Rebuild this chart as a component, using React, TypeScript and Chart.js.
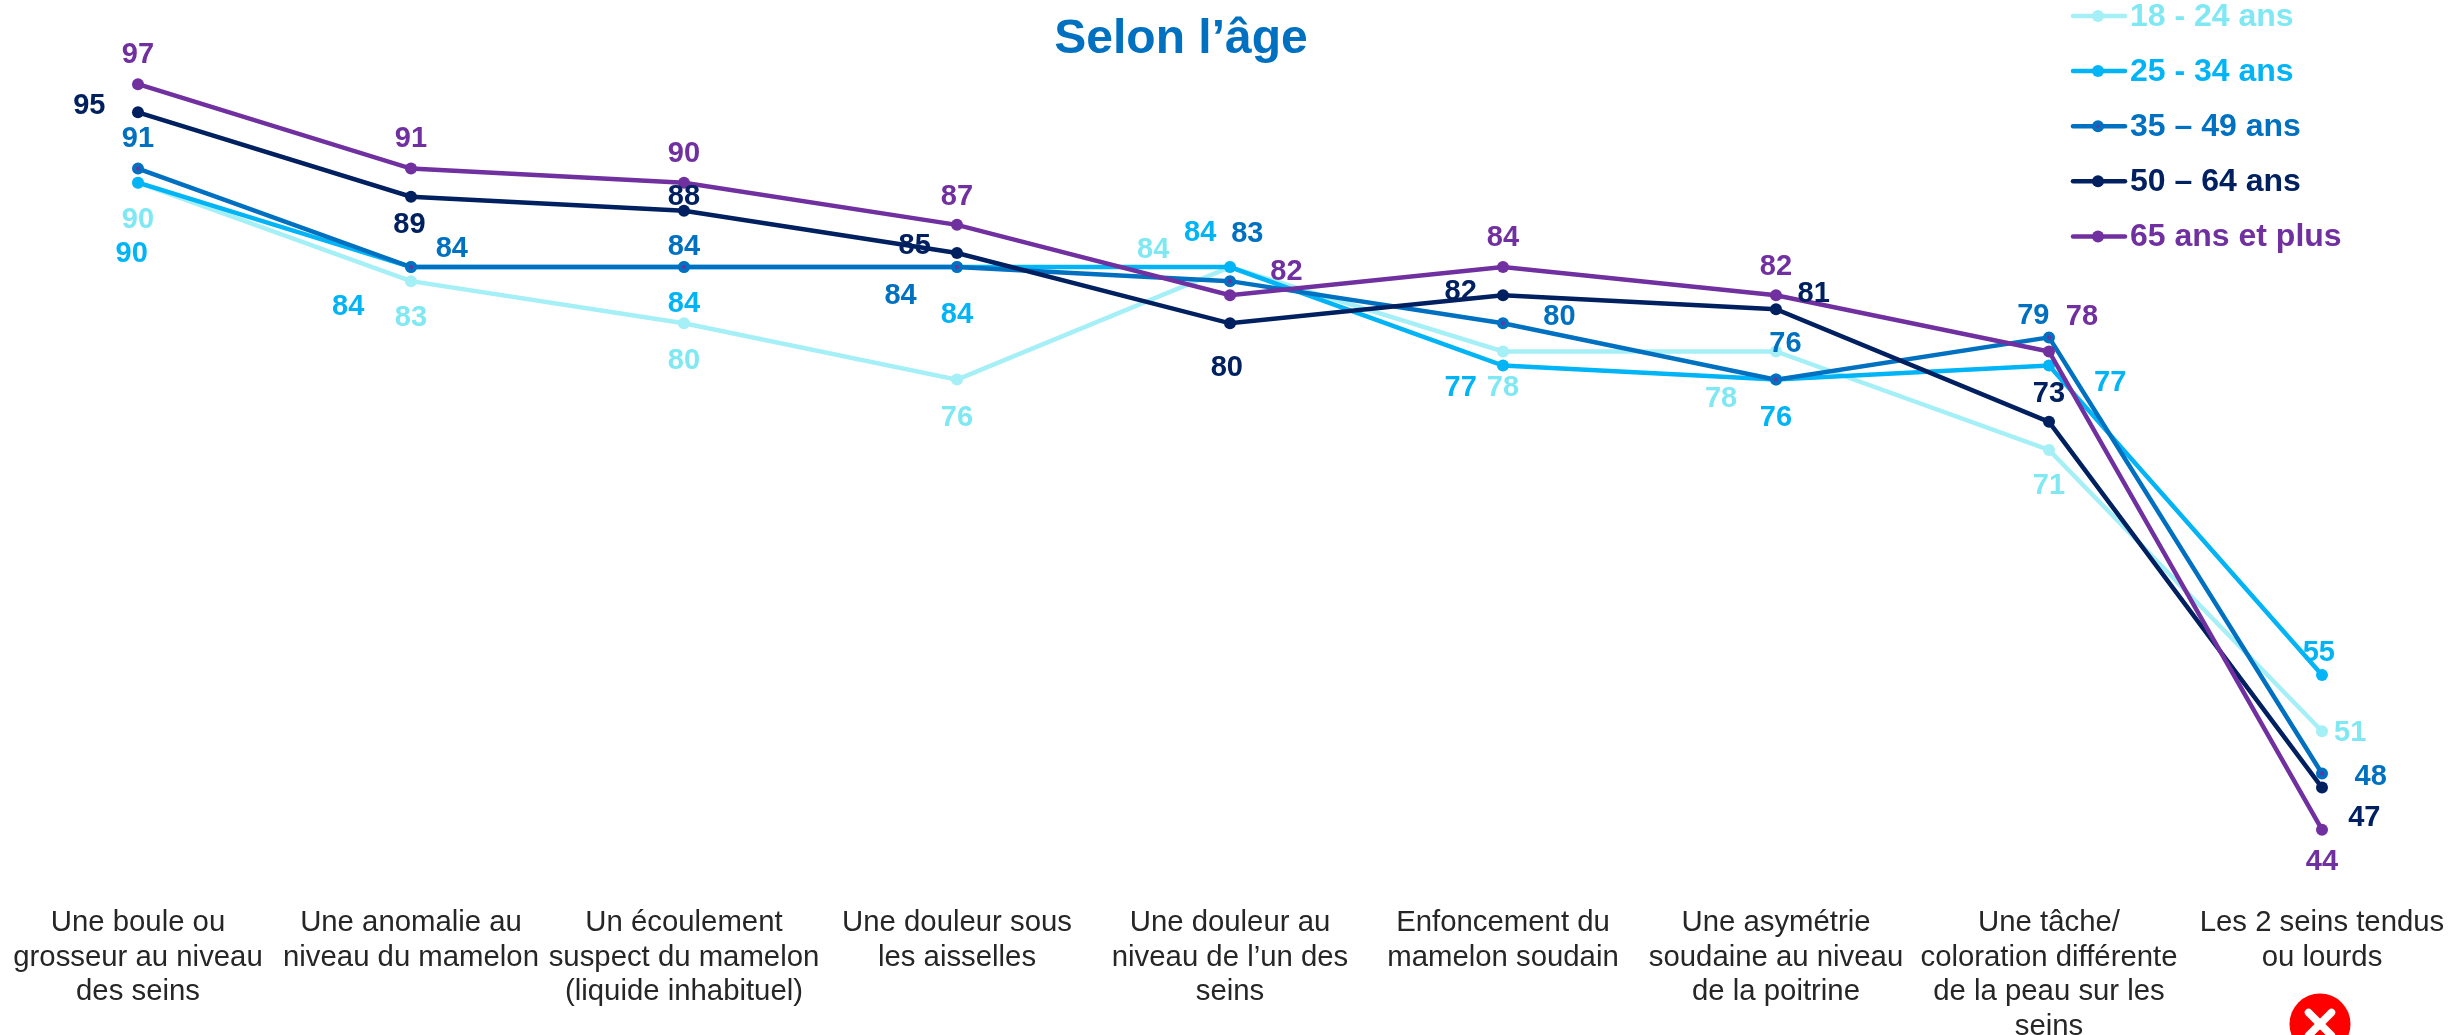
import React, { useEffect, useRef } from "react";
import { Chart, registerables } from "chart.js";

Chart.register(...registerables);

const categories: string[][] = [
  ["Une boule ou", "grosseur au niveau", "des seins"],
  ["Une anomalie au", "niveau du mamelon"],
  ["Un écoulement", "suspect du mamelon", "(liquide inhabituel)"],
  ["Une douleur sous", "les aisselles"],
  ["Une douleur au", "niveau de l’un des", "seins"],
  ["Enfoncement du", "mamelon soudain"],
  ["Une asymétrie", "soudaine au niveau", "de la poitrine"],
  ["Une tâche/", "coloration différente", "de la peau sur les", "seins"],
  ["Les 2 seins tendus", "ou lourds"],
];

const seriesNames = ["18 - 24 ans", "25 - 34 ans", "35 – 49 ans", "50 – 64 ans", "65 ans et plus"];

const values1824 = [90, 83, 80, 76, 84, 78, 78, 71, 51];
const values2534 = [90, 84, 84, 84, 84, 77, 76, 77, 55];
const values3549 = [91, 84, 84, 84, 83, 80, 76, 79, 48];
const values5064 = [95, 89, 88, 85, 80, 82, 81, 73, 47];
const values65 = [97, 91, 90, 87, 82, 84, 82, 78, 44];
const allValues = [values1824, values2534, values3549, values5064, values65];

const lineColors = ["#A5EFF6", "#00B4F5", "#0070C0", "#002060", "#7030A0"];
const textColors = ["#7FE8F3", "#00B4F5", "#0070C0", "#002060", "#7030A0"];

const FONT = '"Liberation Sans", Arial, sans-serif';
const U = 2460 / 1568;

const labelOffsets: [number, number][][] = [
  [[0, 22.5], [0, 22], [0, 23], [0, 23], [-49, -12], [0, 22], [-35, 29], [0, 22], [18, 0]],
  [[-4, 44.5], [-40, 24], [0, 22], [0, 29], [-19, -23], [-27, 13], [0, 23], [39, 10], [-2, -15]],
  [[0, -20], [26, -13], [0, -14], [-36, 17], [11, -31], [36, -5], [6, -24], [-10, -15], [31, 1]],
  [[-31, -5], [-1, 16.5], [0, -10], [-27, -6], [-2, 27], [-27, -3], [24, -11], [0, -19], [27, 18]],
  [[0, -20], [0, -20], [0, -19.5], [0, -19], [36, -16], [0, -20], [0, -19], [21, -23], [0, 19]],
];

const overlayPlugin = {
  id: "overlay",
  afterDraw(chart: any) {
    const { ctx } = chart;
    const x = chart.scales.x;
    const y = chart.scales.y;
    ctx.save();

    // value labels
    ctx.font = `bold 29px ${FONT}`;
    ctx.textAlign = "center";
    ctx.textBaseline = "middle";
    allValues.forEach((vals, s) => {
      ctx.fillStyle = textColors[s];
      vals.forEach((v, i) => {
        const [dx, dy] = labelOffsets[s][i];
        ctx.fillText(String(v), x.getPixelForValue(i) + dx * U, y.getPixelForValue(v) + dy * U + 2);
      });
    });

    // title
    ctx.fillStyle = "#0070C0";
    ctx.font = `bold 48px ${FONT}`;
    ctx.fillText("Selon l’âge", 1181, 40);

    // legend
    seriesNames.forEach((name, s) => {
      const ly = 16 + s * 55.1;
      ctx.strokeStyle = lineColors[s];
      ctx.lineWidth = 4.5;
      ctx.lineCap = "round";
      ctx.beginPath();
      ctx.moveTo(2073, ly);
      ctx.lineTo(2125, ly);
      ctx.stroke();
      ctx.beginPath();
      ctx.arc(2098, ly, 6, 0, Math.PI * 2);
      ctx.fillStyle = lineColors[s];
      ctx.fill();
      if (s === 2) {
        ctx.beginPath();
        ctx.arc(2098, ly, 1.5, 0, Math.PI * 2);
        ctx.fillStyle = lineColors[4];
        ctx.fill();
      }
      ctx.fillStyle = textColors[s];
      ctx.font = `bold 32px ${FONT}`;
      ctx.textAlign = "left";
      ctx.fillText(name, 2130, ly + 1);
    });

    // red cross icon
    const cx = 2320;
    const cy = 1024;
    ctx.beginPath();
    ctx.arc(cx, cy, 30.5, 0, Math.PI * 2);
    ctx.fillStyle = "#FF0000";
    ctx.fill();
    ctx.strokeStyle = "#FFFFFF";
    ctx.lineWidth = 7.5;
    ctx.lineCap = "round";
    ctx.beginPath();
    ctx.moveTo(cx - 11.5, cy - 11.5);
    ctx.lineTo(cx + 11.5, cy + 11.5);
    ctx.moveTo(cx + 11.5, cy - 11.5);
    ctx.lineTo(cx - 11.5, cy + 11.5);
    ctx.stroke();
    ctx.restore();
  },
};

export default function App() {
  const ref = useRef<HTMLCanvasElement>(null);
  useEffect(() => {
    document.body.style.margin = "0";
    const chart = new Chart(ref.current as HTMLCanvasElement, {
      type: "line",
      data: {
        labels: categories as any,
        datasets: allValues.map((vals, s) => ({
          label: seriesNames[s],
          data: vals,
          order: 4 - s,
          borderColor: lineColors[s],
          borderWidth: 4.5,
          tension: 0,
          pointRadius: s === 2 ? 4 : 6,
          pointBorderWidth: s === 2 ? 4 : 0,
          pointBorderColor: lineColors[s],
          pointBackgroundColor: s === 2 ? lineColors[4] : lineColors[s],
        })),
      },
      options: {
        responsive: false,
        animation: false,
        layout: { autoPadding: false, padding: { top: 42, left: 1.5, right: 1.5, bottom: 0 } },
        plugins: { legend: { display: false }, title: { display: false }, tooltip: { enabled: false } },
        scales: {
          x: {
            offset: true,
            border: { display: false },
            grid: { display: false, drawTicks: true, tickLength: 14, tickColor: "rgba(0,0,0,0)" },
            afterFit(scale: any) {
              scale.height = 149;
            },
            ticks: {
              autoSkip: false,
              maxRotation: 0,
              minRotation: 0,
              padding: 6,
              color: "#262626",
              font: { family: FONT, size: 29.33, lineHeight: 1.176 },
            },
          },
          y: { display: false, min: 40, max: 100 },
        },
      },
      plugins: [overlayPlugin],
    } as any);
    return () => chart.destroy();
  }, []);
  return (
    <div style={{ width: 2460, height: 1035, background: "#FFFFFF", overflow: "hidden" }}>
      <canvas ref={ref} width={2460} height={1035} style={{ display: "block" }} />
    </div>
  );
}
